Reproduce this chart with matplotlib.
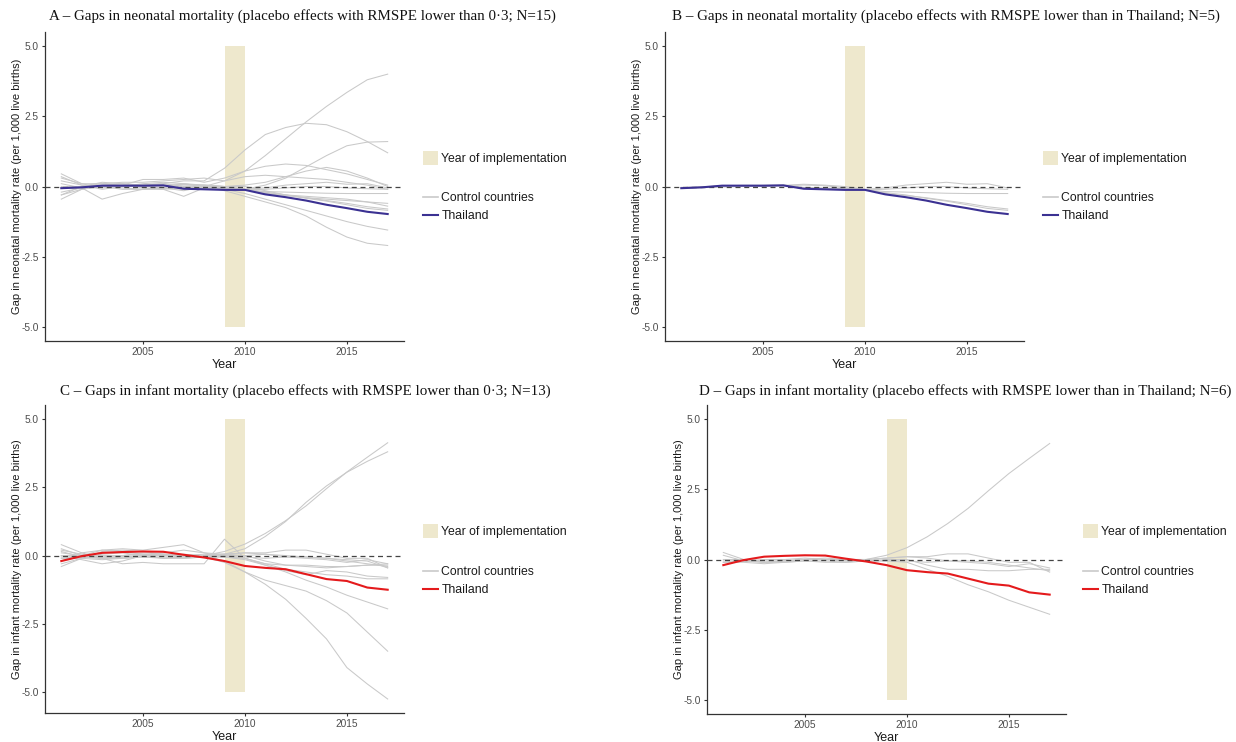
import matplotlib
matplotlib.use("Agg")
import matplotlib.pyplot as plt
from matplotlib.patches import Patch
from matplotlib.lines import Line2D

# ---------------------------------------------------------------- data
YEARS = list(range(2001, 2018))
IMPL_START, IMPL_END = 2009, 2010
BAND_LOW, BAND_HIGH = -5.0, 5.0

X_TICKS = [2005, 2010, 2015]
Y_TICKS = [-5.0, -2.5, 0.0, 2.5, 5.0]
Y_TICK_LABELS = ["-5.0", "-2.5", "0.0", "2.5", "5.0"]

THAI_NEONATAL = [-0.06, -0.03, 0.03, 0.03, 0.03, 0.04, -0.08, -0.1, -0.12, -0.12,
                 -0.28, -0.38, -0.5, -0.65, -0.77, -0.9, -0.98]
THAI_INFANT = [-0.2, -0.02, 0.1, 0.13, 0.15, 0.14, 0.03, -0.07, -0.2, -0.38,
               -0.45, -0.5, -0.68, -0.86, -0.93, -1.17, -1.25]

# neonatal placebos with RMSPE lower than Thailand (N=5)
NEO_CTRL_THAI = [
    [-0.05, -0.03, 0.02, 0.03, 0.02, 0.04, 0.08, 0.05, 0.0, -0.1, -0.05, 0.05, 0.1, 0.15, 0.08, 0.1, -0.05],
    [-0.03, -0.02, 0.0, 0.0, 0.0, 0.03, -0.03, -0.05, -0.08, -0.12, -0.1, -0.05, 0.0, 0.0, -0.05, -0.08, -0.1],
    [-0.05, -0.04, -0.02, 0.0, 0.01, 0.03, 0.05, 0.03, -0.05, -0.12, -0.18, -0.2, -0.22, -0.24, -0.25, -0.25, -0.25],
    [-0.06, -0.03, 0.02, 0.04, 0.04, 0.05, -0.05, -0.08, -0.1, -0.12, -0.25, -0.32, -0.4, -0.5, -0.6, -0.72, -0.8],
    [-0.04, -0.02, 0.03, 0.03, 0.03, 0.04, -0.06, -0.08, -0.1, -0.12, -0.22, -0.3, -0.42, -0.52, -0.65, -0.78, -0.85],
]
# the other neonatal placebos with RMSPE lower than 0.3 (15 - 5)
NEO_CTRL_EXTRA = [
    [0.2, 0.05, -0.1, 0.0, 0.1, 0.15, 0.1, 0.0, 0.2, 0.55, 1.1, 1.7, 2.3, 2.85, 3.35, 3.8, 4.0],
    [-0.3, 0.0, 0.15, 0.1, 0.05, 0.1, 0.2, 0.2, 0.65, 1.3, 1.85, 2.1, 2.25, 2.2, 1.95, 1.6, 1.2],
    [0.1, -0.05, 0.0, -0.05, -0.1, -0.1, -0.05, 0.05, 0.0, -0.1, 0.05, 0.3, 0.7, 1.1, 1.45, 1.58, 1.6],
    [0.45, 0.1, -0.05, 0.05, 0.25, 0.25, 0.3, 0.15, 0.3, 0.55, 0.72, 0.8, 0.75, 0.6, 0.45, 0.25, 0.05],
    [-0.45, -0.1, 0.05, 0.1, 0.0, -0.05, 0.1, 0.05, 0.0, 0.05, 0.15, 0.35, 0.55, 0.68, 0.55, 0.3, 0.0],
    [0.3, 0.1, 0.1, 0.15, 0.15, 0.2, 0.25, 0.3, 0.2, 0.35, 0.4, 0.35, 0.3, 0.25, 0.15, 0.05, -0.1],
    [-0.2, -0.05, -0.45, -0.25, -0.1, -0.05, -0.1, 0.0, -0.15, -0.35, -0.55, -0.75, -1.05, -1.45, -1.8, -2.02, -2.1],
    [0.0, 0.0, 0.1, 0.05, -0.05, -0.1, -0.35, -0.05, -0.1, -0.25, -0.45, -0.65, -0.85, -1.05, -1.25, -1.42, -1.55],
    [-0.3, -0.1, 0.0, 0.0, 0.05, 0.1, 0.0, -0.05, 0.0, 0.0, -0.15, -0.3, -0.4, -0.45, -0.5, -0.55, -0.6],
    [0.35, 0.05, 0.0, -0.1, -0.1, -0.05, -0.15, 0.0, -0.05, -0.1, -0.2, -0.3, -0.35, -0.4, -0.45, -0.55, -0.7],
]

# infant placebos with RMSPE lower than Thailand (N=6)
INF_CTRL_THAI = [
    [-0.1, -0.05, 0.0, 0.0, 0.05, 0.0, -0.05, 0.0, 0.15, 0.42, 0.81, 1.28, 1.82, 2.45, 3.06, 3.6, 4.13],
    [0.25, 0.0, -0.1, -0.05, 0.0, 0.0, -0.05, -0.05, -0.05, -0.1, -0.35, -0.6, -0.9, -1.15, -1.45, -1.7, -1.95],
    [0.15, -0.05, -0.1, -0.05, 0.0, 0.05, 0.0, 0.0, 0.05, 0.1, 0.1, 0.2, 0.2, 0.05, -0.1, -0.1, -0.45],
    [-0.1, -0.1, -0.15, -0.1, -0.05, -0.1, -0.1, -0.05, 0.0, 0.0, -0.2, -0.35, -0.35, -0.4, -0.4, -0.35, -0.35],
    [0.0, 0.0, -0.05, -0.05, 0.0, 0.0, 0.0, 0.0, 0.05, 0.1, 0.05, -0.05, -0.05, -0.1, -0.2, -0.3, -0.4],
    [-0.05, -0.05, -0.1, -0.1, -0.05, -0.05, -0.1, -0.05, -0.05, -0.05, -0.1, -0.05, -0.1, -0.15, -0.25, -0.15, -0.3],
]
# the other infant placebos with RMSPE lower than 0.3 (13 - 6)
INF_CTRL_EXTRA = [
    [0.1, 0.0, 0.2, 0.25, 0.2, 0.3, 0.4, 0.1, 0.05, 0.25, 0.7, 1.25, 1.95, 2.55, 3.05, 3.45, 3.8],
    [0.4, 0.1, -0.1, -0.3, -0.25, -0.3, -0.3, -0.3, 0.6, -0.1, -0.3, -0.35, -0.4, -0.45, -0.4, -0.35, -0.3],
    [-0.4, -0.1, 0.05, 0.1, 0.0, -0.1, -0.05, 0.0, -0.2, -0.6, -1.05, -1.6, -2.3, -3.05, -4.1, -4.7, -5.25],
    [0.2, 0.05, -0.05, 0.0, 0.1, 0.05, 0.0, -0.05, -0.25, -0.6, -0.9, -1.1, -1.3, -1.65, -2.1, -2.8, -3.5],
    [-0.3, -0.1, 0.15, 0.2, 0.15, 0.05, 0.0, 0.05, 0.0, -0.1, -0.3, -0.5, -0.6, -0.7, -0.75, -0.85, -0.85],
    [0.0, -0.15, -0.3, -0.2, 0.0, 0.1, 0.2, 0.1, -0.05, -0.15, -0.35, -0.55, -0.7, -0.55, -0.6, -0.75, -0.8],
    [-0.2, 0.1, 0.2, 0.15, 0.05, 0.0, 0.05, 0.0, 0.05, 0.0, 0.05, 0.0, -0.05, -0.1, -0.15, -0.2, -0.45],
]

TITLES = [
    "A \u2013 Gaps in neonatal mortality (placebo effects with RMSPE lower than 0\u00b73; N=15)",
    "B \u2013 Gaps in neonatal mortality (placebo effects with RMSPE lower than in Thailand; N=5)",
    "C \u2013 Gaps in infant mortality (placebo effects with RMSPE lower than 0\u00b73; N=13)",
    "D \u2013 Gaps in infant mortality (placebo effects with RMSPE lower than in Thailand; N=6)",
]
YLABEL_NEO = "Gap in neonatal mortality rate (per 1,000 live births)"
YLABEL_INF = "Gap in infant mortality rate (per 1,000 live births)"
LEGEND_BAND = "Year of implementation"
LEGEND_LINES = ["Control countries", "Thailand"]

# ---------------------------------------------------------------- style
W, H = 1236, 742
BAND = "#EEE8CD"
GRAY = "#c9c9c9"
BLUE = "#3B3192"
RED = "#E41A1C"
AXIS = "#333333"
TICK_TXT = "#4d4d4d"
SANS = ["Liberation Sans", "DejaVu Sans"]
SERIF = ["Liberation Serif", "DejaVu Serif"]

plt.rcParams["font.family"] = SANS

# panels: (title, ylabel, controls, thai, colour, axes px box, title centre, legend px)
PANELS = [
    (TITLES[0], YLABEL_NEO, NEO_CTRL_THAI + NEO_CTRL_EXTRA, THAI_NEONATAL, BLUE,
     (45, 404, 32, 341), (302, 16), (423, 158, 207)),
    (TITLES[1], YLABEL_NEO, NEO_CTRL_THAI, THAI_NEONATAL, BLUE,
     (665, 1024, 32, 341), (946, 16), (1043, 158, 207)),
    (TITLES[2], YLABEL_INF, INF_CTRL_THAI + INF_CTRL_EXTRA, THAI_INFANT, RED,
     (45, 404, 405, 713), (305, 391), (423, 531, 581)),
    (TITLES[3], YLABEL_INF, INF_CTRL_THAI, THAI_INFANT, RED,
     (707, 1066, 405, 714), (965, 391), (1083, 531, 581)),
]


def expand(lo, hi, mult=0.05):
    pad = (hi - lo) * mult
    return lo - pad, hi + pad


fig = plt.figure(figsize=(W / 100, H / 100), dpi=100)
fig.patch.set_facecolor("white")

for title, ylabel, controls, thai, colour, box, tpos, lpos in PANELS:
    left, right, top, bottom = box
    ax = fig.add_axes([left / W, 1 - bottom / H, (right - left) / W, (bottom - top) / H])

    # implementation year band, spanning -5..5
    ax.fill_between([IMPL_START, IMPL_END], BAND_LOW, BAND_HIGH, color=BAND, lw=0, zorder=1)

    for series in controls:
        ax.plot(YEARS, series, color=GRAY, lw=0.75, zorder=2, solid_joinstyle="round")
    ax.axhline(0, color="#444444", lw=0.9, ls=(0, (4, 3)), zorder=3)
    ax.plot(YEARS, thai, color=colour, lw=1.5, zorder=4, solid_joinstyle="round")

    all_vals = [v for s in controls + [thai] for v in s]
    ax.set_ylim(*expand(min(min(all_vals), BAND_LOW), max(max(all_vals), BAND_HIGH)))
    ax.set_xlim(*expand(YEARS[0], YEARS[-1]))

    ax.set_xticks(X_TICKS)
    ax.set_xticklabels([str(t) for t in X_TICKS])
    ax.set_yticks(Y_TICKS)
    ax.set_yticklabels(Y_TICK_LABELS)
    ax.tick_params(length=2.5, width=0.8, color=AXIS, labelsize=7.3,
                   labelcolor=TICK_TXT, pad=2)

    for side in ("top", "right"):
        ax.spines[side].set_visible(False)
    for side in ("left", "bottom"):
        ax.spines[side].set_color(AXIS)
        ax.spines[side].set_linewidth(0.9)

    ax.set_xlabel("Year", fontsize=9, color="#1a1a1a", labelpad=1)
    ax.set_ylabel(ylabel, fontsize=8.0, color="#1a1a1a")
    ax.yaxis.set_label_coords(-23 / (right - left), 0.5)

    fig.text(tpos[0] / W, 1 - tpos[1] / H, title, ha="center", va="center",
             family=SERIF, fontsize=10.8, color="#111111")

    lx, ly_band, ly_lines = lpos
    leg1 = ax.legend(handles=[Patch(facecolor=BAND, edgecolor="none")],
                     labels=[LEGEND_BAND], loc="center left",
                     bbox_to_anchor=(lx / W, 1 - ly_band / H),
                     bbox_transform=fig.transFigure, frameon=False,
                     fontsize=8.8, handlelength=1.25, handleheight=1.45,
                     handletextpad=0.25, borderpad=0, borderaxespad=0,
                     labelcolor="#1a1a1a")
    ax.add_artist(leg1)
    ax.legend(handles=[Line2D([], [], color=GRAY, lw=1.2),
                       Line2D([], [], color=colour, lw=1.5)],
              labels=LEGEND_LINES, loc="center left",
              bbox_to_anchor=(lx / W, 1 - ly_lines / H),
              bbox_transform=fig.transFigure, frameon=False,
              fontsize=8.8, handlelength=1.25, handletextpad=0.25,
              labelspacing=0.5, borderpad=0, borderaxespad=0,
              labelcolor="#1a1a1a")

fig.savefig("out.png", dpi=100, facecolor="white")
